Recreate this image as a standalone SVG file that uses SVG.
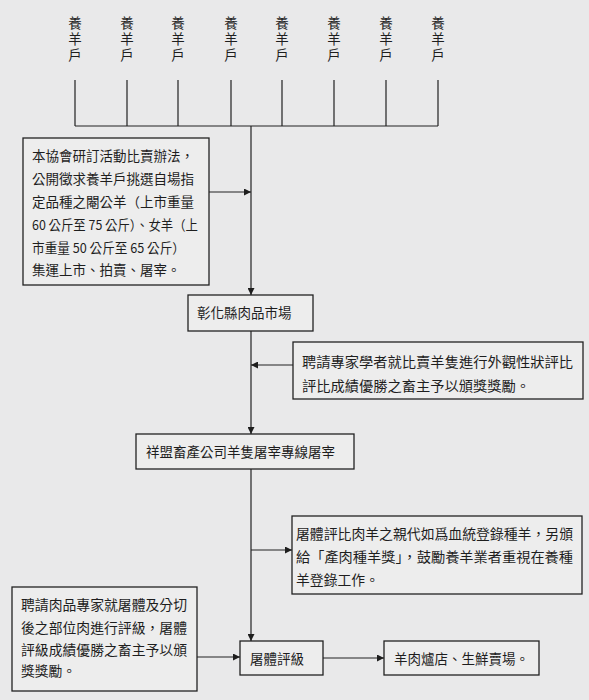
<svg xmlns="http://www.w3.org/2000/svg" width="589" height="700" viewBox="0 0 589 700">
<style>
text{font-family:"Noto Sans CJK TC","Noto Sans CJK SC",sans-serif;font-size:13.5px;fill:#1e1e1e;}
.v{writing-mode:vertical-rl;letter-spacing:2.5px;}
.box{fill:#ededed;stroke:#222;stroke-width:1.3;}
.ln{fill:none;stroke:#222;stroke-width:1.2;}
</style>
<defs>
<marker id="ah" viewBox="0 0 10 10" refX="10" refY="5" markerWidth="8" markerHeight="7" markerUnits="userSpaceOnUse" orient="auto">
<path d="M0,0 L10,5 L0,10 Z" fill="#1e1e1e"/>
</marker>
</defs>
<rect x="0" y="0" width="589" height="700" fill="#e9e9ea"/>
<g id="farmers">
<text class="v" x="75" y="16">養羊戶</text>
<text class="v" x="127" y="16">養羊戶</text>
<text class="v" x="178" y="16">養羊戶</text>
<text class="v" x="231" y="16">養羊戶</text>
<text class="v" x="282" y="16">養羊戶</text>
<text class="v" x="334" y="16">養羊戶</text>
<text class="v" x="386" y="16">養羊戶</text>
<text class="v" x="438" y="16">養羊戶</text>
</g>
<g id="connectors">
<path class="ln" d="M75,80V126M127,80V126M178,80V126M231,80V126M282,80V126M334,80V126M386,80V126M438,80V126M75,126H438"/>
<path class="ln" d="M251,126V295" marker-end="url(#ah)"/>
<path class="ln" d="M209,192H251" marker-end="url(#ah)"/>
<path class="ln" d="M251,331V434" marker-end="url(#ah)"/>
<path class="ln" d="M293,365H251" marker-end="url(#ah)"/>
<path class="ln" d="M251,469V641" marker-end="url(#ah)"/>
<path class="ln" d="M251,550H292" marker-end="url(#ah)"/>
<path class="ln" d="M197,657H240" marker-end="url(#ah)"/>
<path class="ln" d="M323,658H384" marker-end="url(#ah)"/>
</g>
<g id="rules">
<rect class="box" x="23" y="138" width="186" height="147"/>
<text x="32" y="161">本協會研訂活動比賣辦法，</text>
<text x="32" y="184">公開徵求養羊戶挑選自場指</text>
<text x="32" y="207">定品種之閹公羊（上市重量</text>
<text x="32" y="230" textLength="166" lengthAdjust="spacingAndGlyphs">60 公斤至 75 公斤）、女羊（上</text>
<text x="32" y="253" textLength="153" lengthAdjust="spacingAndGlyphs">市重量 50 公斤至 65 公斤）</text>
<text x="32" y="275">集運上市、拍賣、屠宰。</text>
</g>
<g id="market">
<rect class="box" x="188" y="295" width="125" height="36"/>
<text x="197" y="318">彰化縣肉品市場</text>
</g>
<g id="judging">
<rect class="box" x="293" y="342" width="290" height="57"/>
<text x="302" y="367" textLength="271" lengthAdjust="spacingAndGlyphs">聘請專家學者就比賣羊隻進行外觀性狀評比</text>
<text x="302" y="391" textLength="228" lengthAdjust="spacingAndGlyphs">評比成績優勝之畜主予以頒獎獎勵。</text>
</g>
<g id="slaughter">
<rect class="box" x="136" y="434" width="218" height="35"/>
<text x="146" y="457">祥盟畜產公司羊隻屠宰專線屠宰</text>
</g>
<g id="breed-award">
<rect class="box" x="292" y="516" width="290" height="78"/>
<text x="296" y="539" textLength="277" lengthAdjust="spacingAndGlyphs">屠體評比肉羊之親代如爲血統登錄種羊，另頒</text>
<text x="296" y="562" textLength="277" lengthAdjust="spacingAndGlyphs">給「產肉種羊獎」，鼓勵養羊業者重視在養種</text>
<text x="296" y="585" textLength="83" lengthAdjust="spacingAndGlyphs">羊登錄工作。</text>
</g>
<g id="grading-note">
<rect class="box" x="12" y="587" width="185" height="104"/>
<text x="21" y="610" textLength="166" lengthAdjust="spacingAndGlyphs">聘請肉品專家就屠體及分切</text>
<text x="21" y="633" textLength="166" lengthAdjust="spacingAndGlyphs">後之部位肉進行評級，屠體</text>
<text x="21" y="655" textLength="166" lengthAdjust="spacingAndGlyphs">評級成績優勝之畜主予以頒</text>
<text x="21" y="676" textLength="55" lengthAdjust="spacingAndGlyphs">獎獎勵。</text>
</g>
<g id="grading">
<rect class="box" x="240" y="641" width="83" height="34"/>
<text x="250" y="664">屠體評級</text>
</g>
<g id="retail">
<rect class="box" x="384" y="641" width="155" height="34"/>
<text x="394" y="664">羊肉爐店、生鮮賣場。</text>
</g>
</svg>
